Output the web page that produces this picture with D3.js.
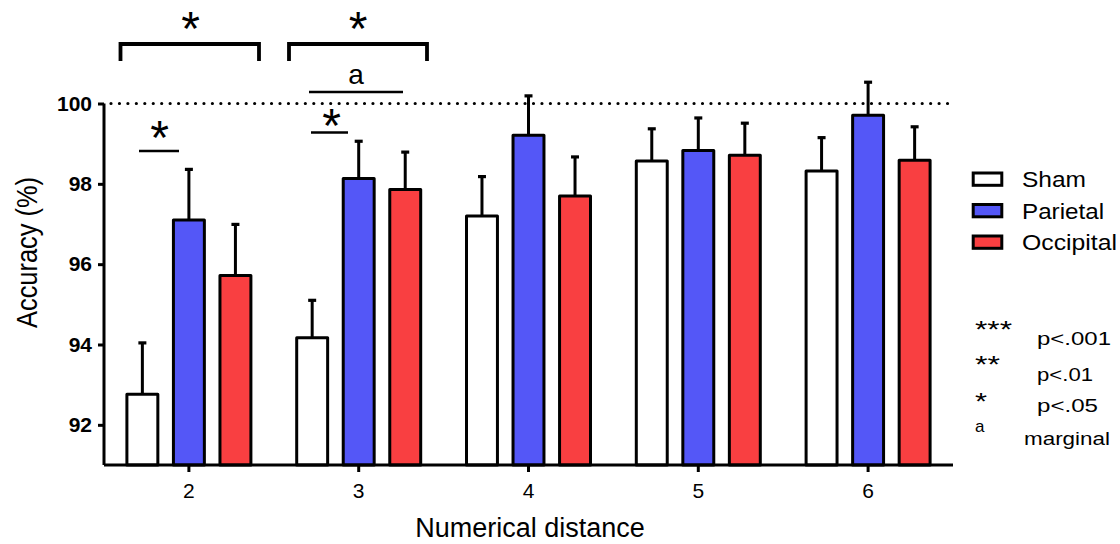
<!DOCTYPE html>
<html><head><meta charset="utf-8">
<script src="https://cdn.jsdelivr.net/npm/d3@7"></script>
<style>body{margin:0;background:#fff}svg{display:block}text{font-family:"Liberation Sans",Arial,sans-serif}</style>
</head><body><svg id="c" width="1120" height="544"></svg>
<script>
const categories = ["2","3","4","5","6"];
const seriesNames = ["Sham","Parietal","Occipital"];
const sham      = [92.76, 94.17, 97.20, 98.57, 98.32];
const parietal  = [97.10, 98.13, 99.21, 98.83, 99.71];
const occipital = [95.72, 97.86, 97.70, 98.71, 98.59];
const shamErr      = [1.28, 0.93, 0.98, 0.80, 0.83];
const parietalErr  = [1.26, 0.93, 0.98, 0.81, 0.82];
const occipitalErr = [1.27, 0.93, 0.97, 0.80, 0.83];
const yTicks = [92, 94, 96, 98, 100];
const colors = ["#ffffff", "#5457F7", "#F93F41"];
const sigLegendSym = ["***","**","*","a"];
const sigLegendTxt = ["p<.001","p<.01","p<.05","marginal"];

const svg = d3.select("#c");
const x = d3.scaleBand().domain(categories).range([104, 953]).padding(0);
const y = d3.scaleLinear().domain([91, 100]).range([465, 103.5]);
const inner = d3.scaleBand().domain(seriesNames).range([-62, 62]).paddingInner(0.335).paddingOuter(0);

const vals = [sham, parietal, occipital];
const errs = [shamErr, parietalErr, occipitalErr];

// reference line at 100
svg.append("line").attr("x1", 111).attr("x2", 948).attr("y1", y(100)).attr("y2", y(100))
  .attr("stroke", "#000").attr("stroke-width", 3.2).attr("stroke-linecap", "round")
  .attr("stroke-dasharray", "0 8.45");

// bars + error bars
seriesNames.forEach((s, si) => {
  const g = svg.append("g");
  categories.forEach((c, ci) => {
    const bx = x(c) + x.bandwidth() / 2 + inner(s);
    const bw = inner.bandwidth();
    const cx = bx + bw / 2;
    const v = vals[si][ci], e = errs[si][ci];
    g.append("line").attr("x1", cx).attr("x2", cx).attr("y1", y(v)).attr("y2", y(v + e))
      .attr("stroke", "#000").attr("stroke-width", 3);
    g.append("line").attr("x1", cx - 4).attr("x2", cx + 4).attr("y1", y(v + e)).attr("y2", y(v + e))
      .attr("stroke", "#000").attr("stroke-width", 3.2);
    g.append("rect").attr("x", bx).attr("y", y(v)).attr("width", bw).attr("height", y(91) - y(v))
      .attr("fill", colors[si]).attr("stroke", "#000").attr("stroke-width", 3).attr("stroke-linejoin", "round");
  });
});

// axes
const yAxis = svg.append("g").attr("transform", "translate(104,0)")
  .call(d3.axisLeft(y).tickValues(yTicks).tickSize(6).tickPadding(6).tickFormat(d3.format("d")));
yAxis.select(".domain").attr("d", `M0,${y(100)}V${y(91)}`).attr("stroke-width", 3);
yAxis.selectAll(".tick line").attr("stroke-width", 3);
yAxis.selectAll(".tick text").attr("font-size", 21).attr("font-weight", "bold").attr("fill", "#000")
  .attr("font-family", "Liberation Sans, Arial, sans-serif");

const xAxis = svg.append("g").attr("transform", `translate(0,${y(91)})`)
  .call(d3.axisBottom(x).tickSize(7).tickPadding(11));
xAxis.select(".domain").attr("d", `M104,0H953`).attr("stroke-width", 3);
xAxis.selectAll(".tick line").attr("stroke-width", 3);
xAxis.selectAll(".tick text").attr("font-size", 21).attr("fill", "#000")
  .attr("font-family", "Liberation Sans, Arial, sans-serif");

svg.append("text").attr("transform", "translate(37,252.5) rotate(-90)").attr("text-anchor", "middle")
  .attr("font-size", 29).attr("textLength", 151).attr("lengthAdjust", "spacingAndGlyphs").text("Accuracy (%)");
svg.append("text").attr("x", 530).attr("y", 537).attr("text-anchor", "middle")
  .attr("font-size", 27).text("Numerical distance");

// significance annotations
function bracket(x1, x2, yTop, yBot) {
  svg.append("path").attr("d", `M${x1},${yBot}V${yTop}H${x2}V${yBot}`)
    .attr("fill", "none").attr("stroke", "#000").attr("stroke-width", 3.8);
}
function star(cx, base) {
  svg.append("text").attr("x", cx).attr("y", base).attr("text-anchor", "middle")
    .attr("font-size", 48).text("*");
}
function hline(x1, x2, yy) {
  svg.append("line").attr("x1", x1).attr("x2", x2).attr("y1", yy).attr("y2", yy)
    .attr("stroke", "#000").attr("stroke-width", 2.7);
}
bracket(120.5, 259, 44, 61); star(190.5, 45);
bracket(289, 427, 44, 61); star(358, 45);
hline(309, 403, 92);
svg.append("text").attr("x", 356).attr("y", 84).attr("text-anchor", "middle").attr("font-size", 28).text("a");
hline(139, 179, 151); star(159.5, 154);
hline(311, 348, 132.5); star(331.5, 142);

// legend
const legW = [64, 82, 95];
seriesNames.forEach((s, i) => {
  const base = 187.3 + i * 31.5;
  svg.append("rect").attr("x", 973.2).attr("y", base - 14.3).attr("width", 28.6).attr("height", 12.3)
    .attr("fill", colors[i]).attr("stroke", "#000").attr("stroke-width", 3);
  svg.append("text").attr("x", 1022).attr("y", base).attr("font-size", 22)
    .attr("textLength", legW[i]).attr("lengthAdjust", "spacingAndGlyphs").text(s);
});

// p legend
const symBase = [337.5, 372.5, 409.5, 432];
const symW = [37, 25, 12, null];
const txtBase = [345, 381, 412, 445];
const txtX = [1037, 1037, 1037, 1024];
const txtW = [74, 56, 61, 86];
sigLegendSym.forEach((s, i) => {
  const t = svg.append("text").attr("x", 975).attr("y", symBase[i]).attr("font-size", s === "a" ? 17 : 24).text(s);
  if (symW[i]) t.attr("textLength", symW[i]).attr("lengthAdjust", "spacingAndGlyphs");
  svg.append("text").attr("x", txtX[i]).attr("y", txtBase[i])
    .attr("font-size", 17.5).attr("textLength", txtW[i]).attr("lengthAdjust", "spacingAndGlyphs")
    .text(sigLegendTxt[i]);
});
</script></body></html>
